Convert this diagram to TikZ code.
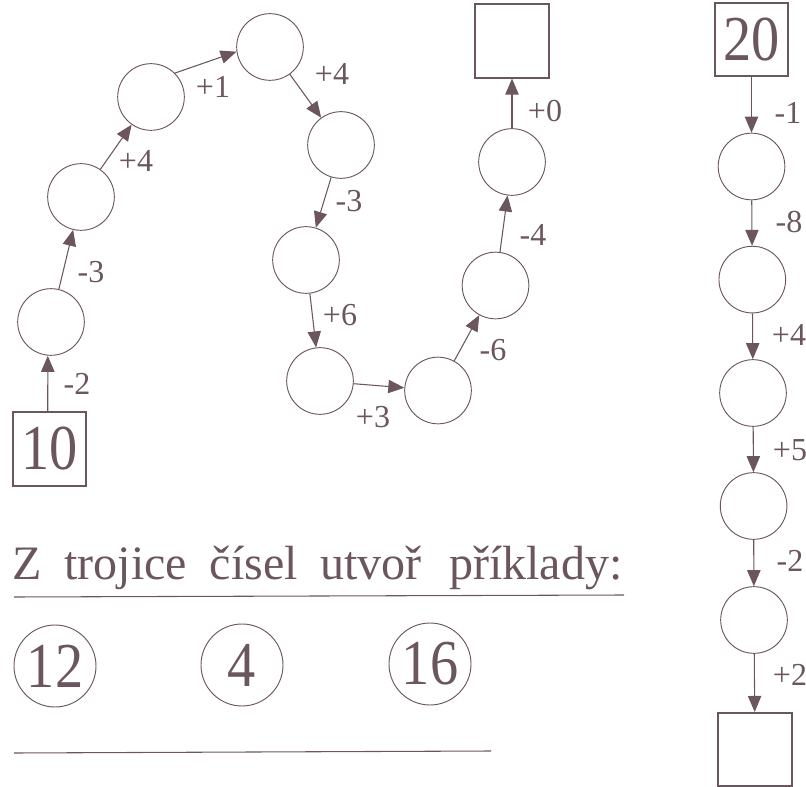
\documentclass[tikz,border=0pt]{standalone}
\usepackage{fontspec}
\setmainfont{Liberation Serif}
\newfontfamily\numfont[FakeStretch=0.88]{Liberation Serif}
\usetikzlibrary{arrows.meta}
\definecolor{ink}{HTML}{6B5660}
\tikzset{
  x=0.75pt,y=-0.75pt,
  blob/.style={circle,draw=ink,line width=0.7pt,minimum size=50pt,inner sep=0pt},
  numblob/.style={circle,draw=ink,line width=0.7pt,minimum size=61.5pt,inner sep=0pt,text=ink,font=\numfont\fontsize{48}{48}\selectfont},
  sq/.style={rectangle,draw=ink,line width=1.3pt,minimum size=55pt,inner sep=0pt,text=ink,font=\numfont\fontsize{48}{48}\selectfont},
  link/.style={draw=ink,line width=0.8pt,-{Triangle[length=12pt,width=10pt]}},
  lab/.style={text=ink,font=\fontsize{24}{24}\selectfont,inner sep=0pt},
  rule/.style={draw=ink,line width=0.8pt}
}
\begin{document}
\begin{tikzpicture}
\useasboundingbox (0,0) rectangle (806,787);
\node[sq] (start) at (49.5,449) {10};
\node[blob] (a1) at (51,322) {};
\node[blob] (a2) at (81,197) {};
\node[blob] (a3) at (151,97) {};
\node[blob] (a4) at (270,47) {};
\node[blob] (a5) at (341,145) {};
\node[blob] (a6) at (306,260) {};
\node[blob] (a7) at (320,381) {};
\node[blob] (a8) at (438,390.5) {};
\node[blob] (a9) at (495.5,285.5) {};
\node[blob] (a10) at (512,162) {};
\node[sq] (end) at (512,41) {};
\draw[link] ([xshift=-1.3pt]start.north) -- ([xshift=-2.4pt]a1.south);
\draw[link] (a1) -- (a2);
\draw[link] (a2) -- (a3);
\draw[link] (a3.45) -- (a4.188);
\draw[link] (a4) -- (a5);
\draw[link] (a5) -- (a6);
\draw[link] (a6) -- (a7);
\draw[link] (a7) -- (a8);
\draw[link] (a8) -- (a9);
\draw[link] (a9) -- (a10);
\draw[link] (a10) -- (end);
\node[lab] at (77,384) {-2};
\node[lab] at (91,272) {-3};
\node[lab] at (136,161) {+4};
\node[lab] at (213,87) {+1};
\node[lab] at (332,74) {+4};
\node[lab] at (349,201) {-3};
\node[lab] at (340,315) {+6};
\node[lab] at (373,417) {+3};
\node[lab] at (493,350) {-6};
\node[lab] at (533,235) {-4};
\node[lab] at (545,111) {+0};
\node[sq] (rs) at (751.5,39.5) {20};
\node[blob] (b1) at (751.5,166.5) {};
\node[blob] (b2) at (752.3,279.6) {};
\node[blob] (b3) at (753,393) {};
\node[blob] (b4) at (753.6,506) {};
\node[blob] (b5) at (754,620) {};
\node[sq] (re) at (755,749.5) {};
\draw[link] (rs) -- (b1);
\draw[link] (b1) -- (b2);
\draw[link] (b2) -- (b3);
\draw[link] (b3) -- (b4);
\draw[link] (b4) -- (b5);
\draw[link] (b5) -- (re);
\node[lab] at (788,113) {-1};
\node[lab] at (789,222) {-8};
\node[lab] at (789,335) {+4};
\node[lab] at (790,450) {+5};
\node[lab] at (790,561) {-2};
\node[lab] at (790,675) {+2};
\node[text=ink,font=\fontsize{36}{36}\selectfont,anchor=base west,inner sep=0pt] (title) at (12,579) {Z\,\hspace{2.25pt} trojice\,\hspace{2pt} čísel\,\hspace{2pt} utvoř\,\hspace{5.5pt} příklady:};
\coordinate (r1a) at (14,597);
\coordinate (r1b) at (624,595);
\coordinate (r2a) at (14,753);
\coordinate (r2b) at (491,751);
\draw[rule] (r1a) -- (r1b);
\draw[rule] (r2a) -- (r2b);
\node[numblob] (n1) at (55,666) {12};
\node[numblob] (n2) at (242,665) {4};
\node[numblob] (n3) at (430,664) {16};
\end{tikzpicture}
\end{document}
